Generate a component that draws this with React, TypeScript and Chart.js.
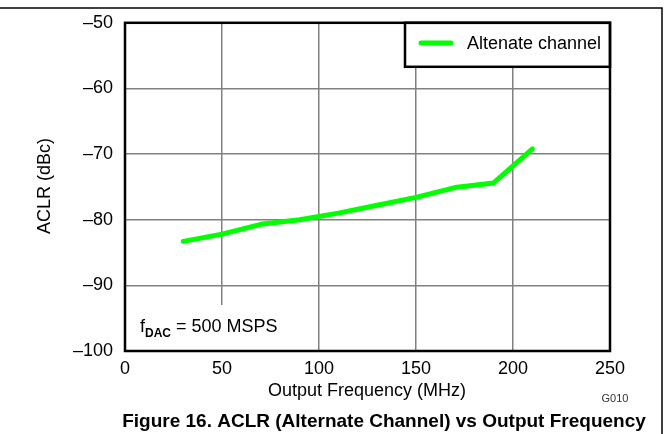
import React, { useEffect, useRef } from "react";
import { Chart, registerables } from "chart.js";

Chart.register(...registerables);

const frequencies = [30, 50, 70, 90, 110, 130, 150, 170, 190, 210];
const aclrAlternate = [-83.3, -82.2, -80.7, -80.0, -79.0, -77.8, -76.6, -75.1, -74.4, -69.2];
const xTicks = [0, 50, 100, 150, 200, 250];
const yTicks = [-100, -90, -80, -70, -60, -50];
const seriesLabel = "Altenate channel";
const xTitle = "Output Frequency (MHz)";
const yTitle = "ACLR (dBc)";
const figureTitle = "Figure 16. ACLR (Alternate Channel) vs Output Frequency";
const graphId = "G010";

const FONT = "'Liberation Sans', Arial, Helvetica, sans-serif";

const overlayPlugin = {
  id: "overlay",
  afterDraw(chart: any) {
    const ctx = chart.ctx as CanvasRenderingContext2D;
    const a = chart.chartArea;
    ctx.save();
    // annotation box
    ctx.fillStyle = "#fff";
    ctx.fillRect(a.left + 2, 305, 170, a.bottom - 305 - 1);
    ctx.fillStyle = "#000";
    ctx.textBaseline = "alphabetic";
    ctx.textAlign = "left";
    ctx.font = `18px ${FONT}`;
    let x = 140;
    const base = 332;
    ctx.fillText("f", x, base);
    x += ctx.measureText("f").width;
    ctx.font = `bold 12px ${FONT}`;
    ctx.fillText("DAC", x, base + 5);
    x += ctx.measureText("DAC").width;
    ctx.font = `18px ${FONT}`;
    ctx.fillText(" = 500 MSPS", x, base);

    // legend box
    const lx = 405, ly = a.top, lw = a.right - 405, lh = 44;
    ctx.fillStyle = "#fff";
    ctx.fillRect(lx, ly, lw, lh);
    ctx.strokeStyle = "#000";
    ctx.lineWidth = 2.5;
    ctx.strokeRect(lx, ly, lw, lh);
    ctx.strokeStyle = "#00ff00";
    ctx.lineWidth = 5;
    ctx.lineCap = "round";
    ctx.beginPath();
    ctx.moveTo(421, 43);
    ctx.lineTo(451, 43);
    ctx.stroke();
    ctx.fillStyle = "#000";
    ctx.font = `18px ${FONT}`;
    ctx.textBaseline = "middle";
    ctx.fillText(seriesLabel, 467, 44);

    // plot frame
    ctx.strokeStyle = "#000";
    ctx.lineWidth = 2.5;
    ctx.lineCap = "butt";
    ctx.strokeRect(a.left, a.top, a.right - a.left, a.bottom - a.top);

    // axis titles
    ctx.textAlign = "center";
    ctx.textBaseline = "middle";
    ctx.font = `18px ${FONT}`;
    ctx.fillText(xTitle, 367, 391);
    ctx.save();
    ctx.translate(45, 186);
    ctx.rotate(-Math.PI / 2);
    ctx.fillText(yTitle, 0, 0);
    ctx.restore();

    ctx.font = `11px ${FONT}`;
    ctx.fillStyle = "#333";
    ctx.fillText(graphId, 615, 399);

    ctx.fillStyle = "#000";
    ctx.font = `bold 19px ${FONT}`;
    ctx.fillText(figureTitle, 384, 422);

    // outer frame
    ctx.strokeStyle = "#000";
    ctx.lineWidth = 1.5;
    ctx.beginPath();
    ctx.moveTo(0, 8);
    ctx.lineTo(662, 8);
    ctx.lineTo(662, 434);
    ctx.stroke();
    ctx.restore();
  },
};

export default function App() {
  const ref = useRef<HTMLCanvasElement>(null);
  useEffect(() => {
    const canvas = ref.current!;
    const chart = new Chart(canvas, {
      type: "line",
      data: {
        datasets: [
          {
            label: seriesLabel,
            data: frequencies.map((f, i) => ({ x: f, y: aclrAlternate[i] })),
            borderColor: "#00ff00",
            borderWidth: 5,
            pointRadius: 0,
            tension: 0,
            borderCapStyle: "round",
            borderJoinStyle: "round",
          },
        ],
      },
      options: {
        responsive: false,
        animation: false,
        layout: { padding: { left: 0, top: 21, right: 59, bottom: 0 } },
        plugins: { legend: { display: false }, title: { display: false }, tooltip: { enabled: false } },
        scales: {
          x: {
            type: "linear",
            min: 0,
            max: 250,
            afterBuildTicks: (s: any) => {
              s.ticks = xTicks.map((v) => ({ value: v }));
            },
            afterFit: (s: any) => {
              s.height = 83;
            },
            grid: { color: "#808080", lineWidth: 1.5, drawTicks: false },
            border: { display: false },
            ticks: {
              padding: 7,
              color: "#000",
              font: { family: FONT, size: 18 },
              maxRotation: 0,
            },
          },
          y: {
            type: "linear",
            min: -100,
            max: -50,
            afterBuildTicks: (s: any) => {
              s.ticks = yTicks.map((v) => ({ value: v }));
            },
            afterFit: (s: any) => {
              s.width = 125;
            },
            grid: { color: "#808080", lineWidth: 1.5, drawTicks: false },
            border: { display: false },
            ticks: {
              padding: 12,
              color: "#000",
              font: { family: FONT, size: 18 },
              callback: (v: any) => String(v).replace("-", "\u2013"),
            },
          },
        },
      },
      plugins: [overlayPlugin],
    } as any);
    return () => chart.destroy();
  }, []);
  return (
    <div style={{ position: "fixed", left: 0, top: 0, width: 669, height: 434, background: "#fff" }}>
      <canvas ref={ref} width={669} height={434} style={{ display: "block" }} />
    </div>
  );
}
